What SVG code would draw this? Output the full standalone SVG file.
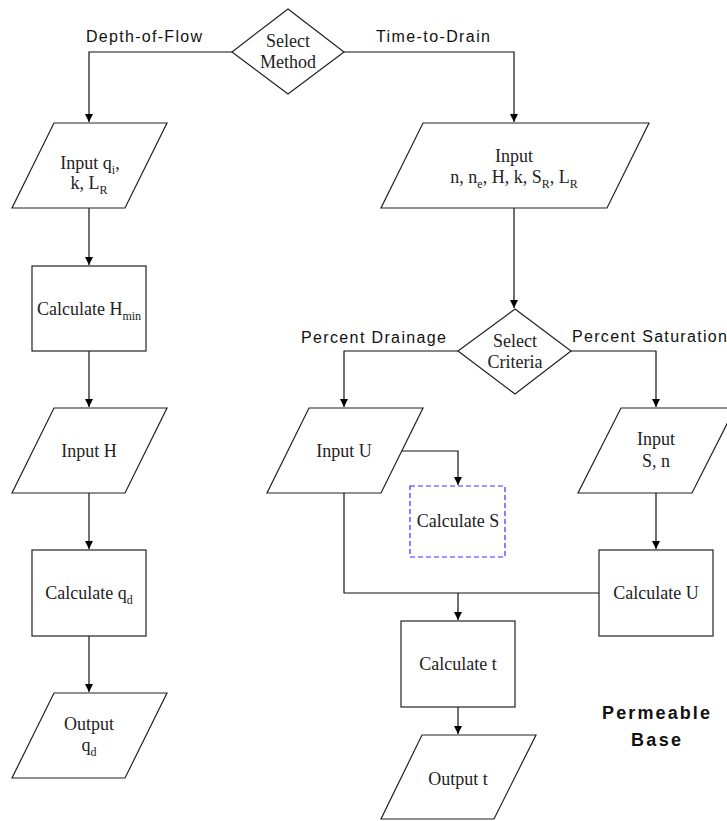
<svg xmlns="http://www.w3.org/2000/svg" width="727" height="821" viewBox="0 0 727 821">
<defs>
<marker id="arr" markerUnits="userSpaceOnUse" markerWidth="10" markerHeight="10" refX="8" refY="4" orient="auto">
<path d="M0,0 L8,4 L0,8 Z" fill="#000"/>
</marker>
<style>
.shape{fill:#fff;stroke:#222;stroke-width:1.2}
.dash{fill:none;stroke:#3333ff;stroke-width:1.2;stroke-dasharray:5,3}
.conn{fill:none;stroke:#111;stroke-width:1.2}
.t{font-family:"Liberation Serif","Times New Roman",serif;font-size:18px;fill:#222;text-anchor:middle}
.sub{font-size:12px}
.lbl{font-family:"Liberation Sans",Arial,sans-serif;font-size:16px;fill:#111}
.big{font-family:"Liberation Sans",Arial,sans-serif;font-size:18px;font-weight:bold;fill:#111;text-anchor:middle}
</style>
</defs>
<rect width="727" height="821" fill="#fff"/>

<g id="connectors">
<polyline class="conn" points="232,52 89,52 89,122" marker-end="url(#arr)"/>
<polyline class="conn" points="344,52 514,52 514,122" marker-end="url(#arr)"/>
<polyline class="conn" points="89,208 89,265" marker-end="url(#arr)"/>
<polyline class="conn" points="89,351 89,407" marker-end="url(#arr)"/>
<polyline class="conn" points="89,493 89,549" marker-end="url(#arr)"/>
<polyline class="conn" points="89,636 89,692" marker-end="url(#arr)"/>
<polyline class="conn" points="514,208 514,308" marker-end="url(#arr)"/>
<polyline class="conn" points="458,351 344,351 344,407" marker-end="url(#arr)"/>
<polyline class="conn" points="571,351 656,351 656,407" marker-end="url(#arr)"/>
<polyline class="conn" points="402,451 458,451 458,485" marker-end="url(#arr)"/>
<polyline class="conn" points="344,493 344,593 599,593"/>
<polyline class="conn" points="458,593 458,620" marker-end="url(#arr)"/>
<polyline class="conn" points="656,493 656,549" marker-end="url(#arr)"/>
<polyline class="conn" points="458,707 458,734" marker-end="url(#arr)"/>
<text class="lbl" x="86" y="42" textLength="116" lengthAdjust="spacing">Depth-of-Flow</text>
<text class="lbl" x="376" y="42" textLength="114" lengthAdjust="spacing">Time-to-Drain</text>
<text class="lbl" x="301" y="343" textLength="145" lengthAdjust="spacing">Percent Drainage</text>
<text class="lbl" x="572" y="342" textLength="155" lengthAdjust="spacing">Percent Saturation</text>
</g>

<g id="select-method">
<polygon class="shape" points="288,9 344,52 288,94 232,52"/>
<text class="t" x="288" y="47">Select</text>
<text class="t" x="288" y="68">Method</text>
</g>

<g id="input-qi">
<polygon class="shape" points="54,123 167,123 125,208 12,208"/>
<text class="t" x="90" y="169">Input q<tspan class="sub" dy="5">i</tspan><tspan dy="-5">,</tspan></text>
<text class="t" x="89" y="189">k, L<tspan class="sub" dy="5">R</tspan></text>
</g>

<g id="calc-hmin">
<rect class="shape" x="32" y="266" width="114" height="85"/>
<text class="t" x="89" y="315">Calculate H<tspan class="sub" dy="5">min</tspan></text>
</g>

<g id="input-h">
<polygon class="shape" points="54,408 167,408 125,493 12,493"/>
<text class="t" x="89" y="457">Input H</text>
</g>

<g id="calc-qd">
<rect class="shape" x="32" y="550" width="114" height="86"/>
<text class="t" x="89" y="599">Calculate q<tspan class="sub" dy="5">d</tspan></text>
</g>

<g id="output-qd">
<polygon class="shape" points="54,693 167,693 125,778 12,778"/>
<text class="t" x="89" y="730">Output</text>
<text class="t" x="89" y="751">q<tspan class="sub" dy="5">d</tspan></text>
</g>

<g id="input-n">
<polygon class="shape" points="423,123 649,123 607,208 381,208"/>
<text class="t" x="514" y="162">Input</text>
<text class="t" x="514" y="183">n, n<tspan class="sub" dy="5">e</tspan><tspan dy="-5">, H, k, S</tspan><tspan class="sub" dy="5">R</tspan><tspan dy="-5">, L</tspan><tspan class="sub" dy="5">R</tspan></text>
</g>

<g id="select-criteria">
<polygon class="shape" points="515,309 571,351 515,394 458,351"/>
<text class="t" x="515" y="347">Select</text>
<text class="t" x="515" y="368">Criteria</text>
</g>

<g id="input-u">
<polygon class="shape" points="309,408 423,408 381,493 267,493"/>
<text class="t" x="344" y="457">Input U</text>
</g>

<g id="calc-s">
<rect class="dash" x="410" y="486" width="95" height="71"/>
<text class="t" x="458" y="527">Calculate S</text>
</g>

<g id="input-sn">
<polygon class="shape" points="621,408 735,408 692,493 578,493"/>
<text class="t" x="656" y="445">Input</text>
<text class="t" x="656" y="467">S, n</text>
</g>

<g id="calc-u">
<rect class="shape" x="599" y="550" width="114" height="86"/>
<text class="t" x="656" y="599">Calculate U</text>
</g>

<g id="calc-t">
<rect class="shape" x="401" y="621" width="114" height="86"/>
<text class="t" x="458" y="670">Calculate t</text>
</g>

<g id="output-t">
<polygon class="shape" points="422,735 536,735 494,819 381,819"/>
<text class="t" x="458" y="785">Output t</text>
</g>

<g id="title">
<text class="big" x="656" y="719" textLength="108" lengthAdjust="spacing">Permeable</text>
<text class="big" x="656" y="746" textLength="50" lengthAdjust="spacing">Base</text>
</g>
</svg>
